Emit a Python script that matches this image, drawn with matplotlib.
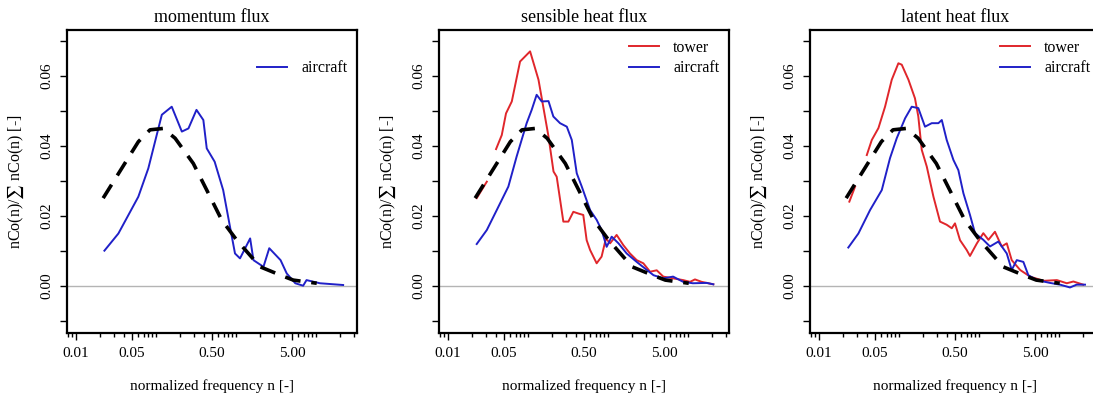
import numpy as np
import matplotlib
matplotlib.use('Agg')
import matplotlib.pyplot as plt
from matplotlib.ticker import FixedLocator, LogLocator, NullFormatter

plt.rcParams['font.family'] = ['Liberation Serif', 'DejaVu Serif']
plt.rcParams['mathtext.fontset'] = 'stix'

titles = ['momentum flux', 'sensible heat flux', 'latent heat flux']

# model curve (dashed), same in every panel
n_model = [0.0218, 0.0372, 0.060, 0.084, 0.123, 0.173, 0.292, 0.43, 0.66, 1.02, 2.0, 3.6, 5.2, 10.2]
c_model = [0.0251, 0.0336, 0.0412, 0.0446, 0.0450, 0.0422, 0.0350, 0.0274, 0.0189, 0.0131, 0.0055, 0.0031, 0.0017, 0.0008]

# momentum flux, aircraft
n_mom_air = [0.0226, 0.0338, 0.060, 0.080, 0.118, 0.157, 0.21, 0.254, 0.32, 0.39, 0.43, 0.54, 0.69, 0.84,
             0.97, 1.12, 1.5, 1.65, 2.2, 2.6, 3.6, 4.3, 5.5, 6.9, 7.6, 11.2, 21.8]
c_mom_air = [0.0101, 0.0150, 0.0255, 0.0336, 0.0489, 0.0512, 0.0441, 0.0450, 0.0503, 0.0474, 0.0393, 0.0355,
             0.0274, 0.0169, 0.0093, 0.0079, 0.0136, 0.0074, 0.0055, 0.0108, 0.0074, 0.0036, 0.0008, 0.0001,
             0.0017, 0.0008, 0.0003]

# sensible heat flux
n_sh_tow = [0.0228, 0.0305, np.nan, 0.0398, 0.0469, 0.053, 0.0626, 0.0794, 0.106, 0.135, 0.18, 0.208, 0.228,
            0.276, 0.319, 0.368, 0.426, 0.49, 0.54, 0.596, 0.72, 0.83, 0.94, 1.06, 1.28, 1.55, 1.88, 2.28,
            2.76, 3.35, 4.06, 4.9, 6.5, 8.7, 10.6, 12.2, 14.8, 17.1, 20.7]
c_sh_tow = [0.0251, 0.0298, np.nan, 0.0391, 0.0431, 0.0493, 0.0527, 0.0641, 0.0670, 0.0589, 0.0427, 0.0327,
            0.0312, 0.0184, 0.0184, 0.0212, 0.0207, 0.0203, 0.0131, 0.0103, 0.0065, 0.0084, 0.0136, 0.0122,
            0.0146, 0.0117, 0.0093, 0.0074, 0.0065, 0.0041, 0.0045, 0.0027, 0.0022, 0.0017, 0.0012, 0.0019,
            0.0012, 0.0009, 0.0005]
n_sh_air = [0.0228, 0.0305, 0.0406, 0.0567, 0.072, 0.096, 0.111, 0.128, 0.148, 0.18, 0.207, 0.251, 0.305,
            0.352, 0.406, 0.469, 0.596, 0.72, 0.83, 0.96, 1.11, 1.35, 1.71, 2.28, 3.05, 3.7, 4.9, 6.5, 8.7,
            11.5, 17.1, 20.7]
c_sh_air = [0.0120, 0.0160, 0.0217, 0.0284, 0.0370, 0.0465, 0.0503, 0.0546, 0.0527, 0.0528, 0.0484, 0.0465,
            0.0455, 0.0417, 0.0322, 0.0284, 0.0217, 0.0189, 0.0160, 0.0112, 0.0141, 0.0122, 0.0093, 0.0069,
            0.0046, 0.0031, 0.0022, 0.0027, 0.0012, 0.0008, 0.0009, 0.0005]

# latent heat flux
n_lh_tow = [0.0239, 0.0282, np.nan, 0.0395, 0.0456, 0.0552, 0.0668, 0.081, 0.098, 0.108, 0.131, 0.158, 0.174,
            0.192, 0.222, 0.269, 0.325, 0.394, 0.456, 0.5, 0.578, 0.70, 0.77, 0.94, 1.13, 1.31, 1.58, 1.92,
            2.22, 2.56, 3.26, 4.34, 6.4, 9.4, 12.5, 15.1, 20.1]
c_lh_tow = [0.0241, 0.0284, np.nan, 0.0374, 0.0417, 0.0451, 0.0512, 0.0589, 0.0636, 0.0632, 0.0589, 0.0536,
            0.0484, 0.0389, 0.0341, 0.0255, 0.0184, 0.0175, 0.0165, 0.0179, 0.0131, 0.0103, 0.0086, 0.0122,
            0.0151, 0.0132, 0.0155, 0.0113, 0.0122, 0.0074, 0.0046, 0.0027, 0.0015, 0.0017, 0.0008, 0.0013,
            0.0004]
n_lh_air = [0.0232, 0.031, 0.0434, 0.0608, 0.077, 0.0935, 0.119, 0.144, 0.174, 0.211, 0.256, 0.31, 0.342,
            0.394, 0.478, 0.551, 0.637, 0.77, 0.89, 1.13, 1.37, 1.74, 2.22, 2.56, 2.96, 3.58, 4.13, 5.3, 7.7,
            10.3, 13.7, 16.6, 21.1]
c_lh_air = [0.0110, 0.0150, 0.0217, 0.0274, 0.0365, 0.0422, 0.0479, 0.0512, 0.0508, 0.0455, 0.0465, 0.0465,
            0.0474, 0.0417, 0.0360, 0.0331, 0.0265, 0.0203, 0.0151, 0.0132, 0.0113, 0.0127, 0.0093, 0.0046,
            0.0074, 0.0069, 0.0031, 0.0017, 0.0009, 0.0004, -0.0004, 0.0004, 0.0004]

tower = [None, (n_sh_tow, c_sh_tow), (n_lh_tow, c_lh_tow)]
aircraft = [(n_mom_air, c_mom_air), (n_sh_air, c_sh_air), (n_lh_air, c_lh_air)]

red = '#e0262b'
blue = '#2020c8'

fig = plt.figure(figsize=(10.93, 3.95), dpi=100)
lefts = [67, 439, 810]

for i in range(3):
    ax = fig.add_axes([lefts[i] / 1093, 62 / 395, 290 / 1093, 303 / 395])
    ax.axhline(0, color='#b4b4b4', lw=1, zorder=1)

    if tower[i] is not None:
        ax.plot(tower[i][0], tower[i][1], color=red, lw=1.4, label='tower', zorder=3)
    else:
        # empty first row so "aircraft" sits on the second legend line
        ax.plot([], [], color='none', label=' ')
    ax.plot(aircraft[i][0], aircraft[i][1], color=blue, lw=1.4, label='aircraft', zorder=3)
    dl, = ax.plot(n_model, c_model, color='black', lw=2.6, zorder=4)
    dl.set_dashes((4.4, 3.0))
    dl.set_dash_capstyle('butt')

    ax.set_xscale('log')
    ax.set_xlim(0.0077, 32.5)
    ax.set_ylim(-0.0134, 0.0731)

    ax.xaxis.set_major_locator(FixedLocator([0.01, 0.05, 0.5, 5]))
    ax.set_xticklabels(['0.01', '0.05', '0.50', '5.00'])
    ax.xaxis.set_minor_locator(LogLocator(base=10, subs=np.arange(1, 10)))
    ax.xaxis.set_minor_formatter(NullFormatter())

    ax.yaxis.set_major_locator(FixedLocator([0.0, 0.02, 0.04, 0.06]))
    ax.set_yticklabels(['0.00', '0.02', '0.04', '0.06'], rotation=90, va='center')
    ax.yaxis.set_minor_locator(FixedLocator([-0.01, 0.01, 0.03, 0.05, 0.07]))

    ax.tick_params(which='both', direction='out', length=5, width=1, labelsize=11, pad=5)
    ax.tick_params(axis='x', which='minor', length=3)
    for s in ax.spines.values():
        s.set_linewidth(1.6)

    ax.set_title(titles[i], fontsize=13, pad=6)
    ax.set_xlabel('normalized frequency n [-]', fontsize=11, labelpad=14)
    ax.set_ylabel(r'nCo(n)/$\sum$ nCo(n) [-]', fontsize=11.5, labelpad=10)

    ax.legend(loc='upper right', frameon=False, fontsize=11.5, handlelength=1.9,
              handletextpad=0.9, borderaxespad=0.2, labelspacing=0.3)

fig.savefig('out.png', dpi=100)
